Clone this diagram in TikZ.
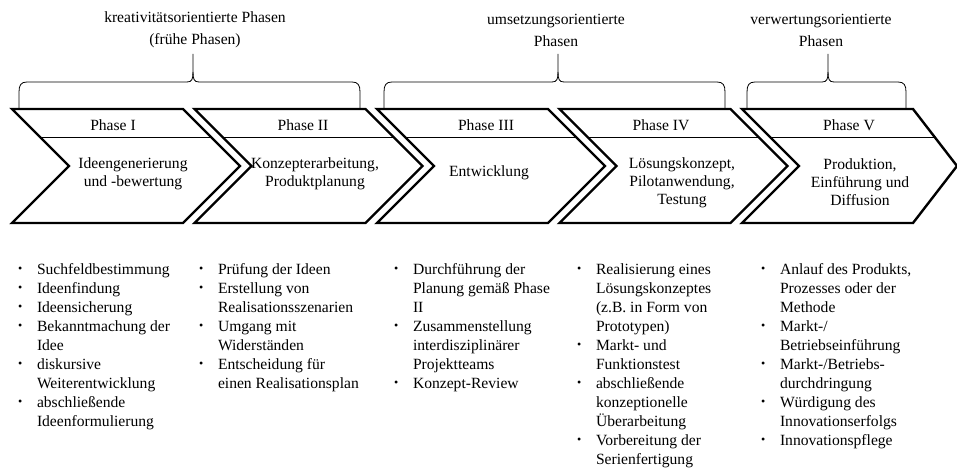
\documentclass[tikz,border=0pt]{standalone}
\usepackage{fontspec}
\setmainfont{Liberation Serif}
\begin{document}
\begin{tikzpicture}[x=1pt,y=-1pt,
  every node/.style={inner sep=0pt, outer sep=0pt},
  chev/.style={line width=2.4pt, line join=miter},
  divider/.style={line width=0.9pt},
  brace/.style={line width=0.8pt},
  body/.style={font=\fontsize{15.6}{18}\selectfont, align=center},
  hdr/.style={font=\fontsize{15.6}{19}\selectfont},
  grp/.style={font=\fontsize{15.6}{22}\selectfont, align=center},
  lst/.style={font=\fontsize{15.6}{19}\selectfont, anchor=base west},
]
\useasboundingbox (0,0) rectangle (957,468);

% five phase arrows: left x of the top edge / depth of the point
\foreach \a/\t in {12/57, 194.5/57, 377/57, 559.5/57, 742/44} {
  \draw[chev] (\a,109) -- ++(171,0) -- ++(\t,57) -- ++(-\t,57)
              -- ++(-171,0) -- ++(57,-57) -- cycle;
  \draw[divider] (\a+28,137) -- (\a+171+28*\t/57,137);
}

% phase headers
\node[hdr] (h1) at (113,125) {Phase I};
\node[hdr] (h2) at (303,125) {Phase II};
\node[hdr] (h3) at (486,125) {Phase III};
\node[hdr] (h4) at (661,125) {Phase IV};
\node[hdr] (h5) at (849,125) {Phase V};

% phase contents
\node[body] (b1) at (133,174) {Ideengenerierung\\und -bewertung};
\node[body] (b2) at (315,174) {Konzepterarbeitung,\\Produktplanung};
\node[body] (b3) at (489,173) {Entwicklung};
\node[body] (b4) at (682,183) {Lösungskonzept,\\Pilotanwendung,\\Testung};
\node[body] (b5) at (860,182) {Produktion,\\Einführung und\\Diffusion};

% curly braces grouping the phases: left end / peak / right end
\foreach \l/\p/\r [count=\i] in {19/193/360, 384/558/725, 747/828/906} {
  \draw[brace] (\l,108) -- (\l,92) .. controls (\l,85) and (\l+2,82) .. (\l+8,82)
     -- (\p-6,82) .. controls (\p-1,82) and (\p,79) .. (\p,72) -- (\p,54);
  \draw[brace] (\p,72) .. controls (\p,79) and (\p+1,82) .. (\p+6,82)
     -- (\r-8,82) .. controls (\r-2,82) and (\r,85) .. (\r,92) -- (\r,108);
  \coordinate (peak\i) at (\p,54);
}

% group labels
\node[grp] (g1) at (195,30) {kreativitätsorientierte Phasen\\(frühe Phasen)};
\node[grp] (g2) at (556,30) {umsetzungsorientierte\\Phasen};
\node[grp] (g3) at (821,30) {verwertungsorientierte\\Phasen};

% activity lists with small bullets
\newcommand{\sbul}{\makebox[5.5pt]{\raisebox{1.2pt}{\fontsize{12}{12}\selectfont\textbullet}}}
\newcommand{\blist}[1]{\begin{tabular}[t]{@{}l@{\hspace{14pt}}l@{}}#1\end{tabular}}
\node[lst] (l1) at (17.5,274) {\blist{
  \sbul & Suchfeldbestimmung\\
  \sbul & Ideenfindung\\
  \sbul & Ideensicherung\\
  \sbul & Bekanntmachung der\\
        & Idee\\
  \sbul & diskursive\\
        & Weiterentwicklung\\
  \sbul & abschließende\\
        & Ideenformulierung}};
\node[lst] (l2) at (198.5,274) {\blist{
  \sbul & Prüfung der Ideen\\
  \sbul & Erstellung von\\
        & Realisationsszenarien\\
  \sbul & Umgang mit\\
        & Widerständen\\
  \sbul & Entscheidung für\\
        & einen Realisationsplan}};
\node[lst] (l3) at (393.5,274) {\blist{
  \sbul & Durchführung der\\
        & Planung gemäß Phase\\
        & II\\
  \sbul & Zusammenstellung\\
        & interdisziplinärer\\
        & Projektteams\\
  \sbul & Konzept-Review}};
\node[lst] (l4) at (576.5,274) {\blist{
  \sbul & Realisierung eines\\
        & Lösungskonzeptes\\
        & (z.B. in Form von\\
        & Prototypen)\\
  \sbul & Markt- und\\
        & Funktionstest\\
  \sbul & abschließende\\
        & konzeptionelle\\
        & Überarbeitung\\
  \sbul & Vorbereitung der\\
        & Serienfertigung}};
\node[lst] (l5) at (760.5,274) {\blist{
  \sbul & Anlauf des Produkts,\\
        & Prozesses oder der\\
        & Methode\\
  \sbul & Markt-/\\
        & Betriebseinführung\\
  \sbul & Markt-/Betriebs-\\
        & durchdringung\\
  \sbul & Würdigung des\\
        & Innovationserfolgs\\
  \sbul & Innovationspflege}};
\end{tikzpicture}
\end{document}
